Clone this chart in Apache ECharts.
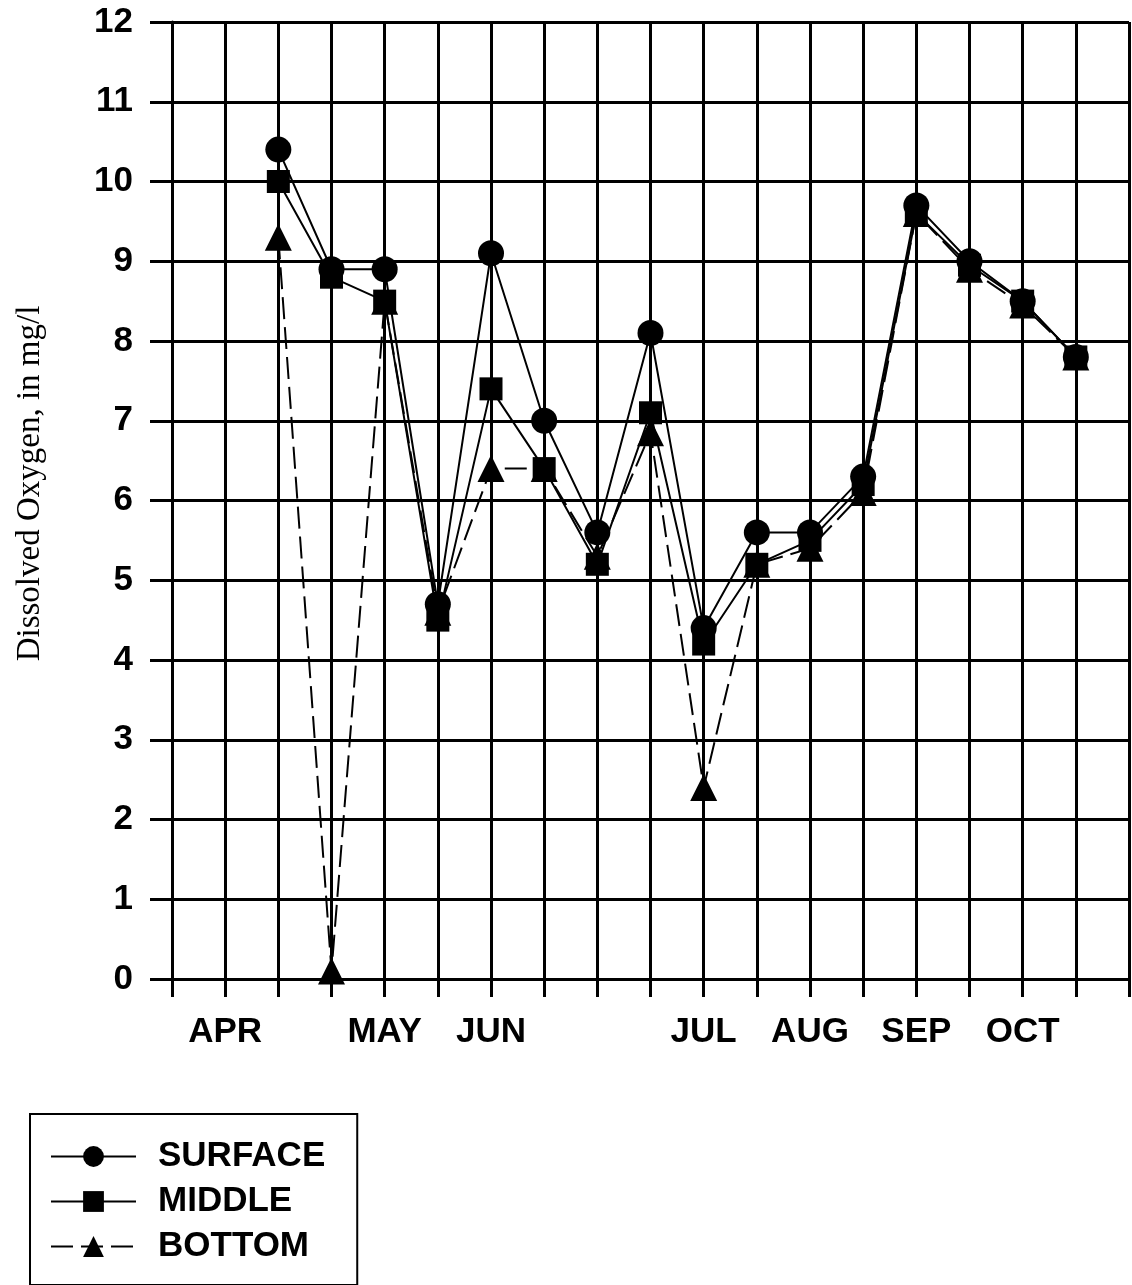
<!DOCTYPE html>
<html>
<head>
<meta charset="utf-8">
<script src="https://cdn.jsdelivr.net/npm/echarts@6/dist/echarts.min.js"></script>
<style>
html,body{margin:0;padding:0;background:#fff;}
#chart{width:1132px;height:1285px;}
</style>
</head>
<body>
<div id="chart"></div>
<script>
// 19 grid positions along x; month labels placed at their positions
var categories = ['', 'APR', '', '', 'MAY', '', 'JUN', '', '', '', 'JUL', '', 'AUG', '', 'SEP', '', 'OCT', '', ''];
var surface = [null, null, 10.4, 8.9, 8.9, 4.7, 9.1, 7.0, 5.6, 8.1, 4.4, 5.6, 5.6, 6.3, 9.7, 9.0, 8.5, 7.8, null];
var middle  = [null, null, 10.0, 8.8, 8.5, 4.5, 7.4, 6.4, 5.2, 7.1, 4.2, 5.2, 5.5, 6.2, 9.6, 8.95, 8.5, 7.8, null];
var bottom  = [null, null, 9.3, 0.1, 8.5, 4.6, 6.4, 6.4, 5.3, 6.85, 2.4, 5.2, 5.4, 6.1, 9.6, 8.9, 8.45, 7.8, null];
var yTicks = [0, 12, 1];

var chart = echarts.init(document.getElementById('chart'));
var labelFont = {color: '#000', fontFamily: 'Liberation Sans, Arial, sans-serif', fontWeight: 'bold', fontSize: 35};
chart.setOption({
  animation: false,
  backgroundColor: '#fff',
  grid: {left: 172, right: 2, top: 22, bottom: 306, containLabel: false},
  xAxis: {
    type: 'category',
    data: categories,
    boundaryGap: false,
    axisLine: {show: true, lineStyle: {color: '#000', width: 3}},
    axisTick: {show: true, interval: 0, length: 18, lineStyle: {color: '#000', width: 3}},
    axisLabel: Object.assign({interval: 0, margin: 36}, labelFont),
    splitLine: {show: true, interval: 0, lineStyle: {color: '#000', width: 3}}
  },
  yAxis: {
    type: 'value',
    min: yTicks[0], max: yTicks[1], interval: yTicks[2],
    name: 'Dissolved Oxygen, in mg/l',
    nameLocation: 'middle',
    nameGap: 125,
    nameTextStyle: {color: '#000', fontFamily: 'Liberation Serif, Times New Roman, serif', fontSize: 33, padding: [0, 0, 0, 34]},
    axisLine: {show: true, lineStyle: {color: '#000', width: 3}},
    axisTick: {show: true, length: 22, lineStyle: {color: '#000', width: 3}},
    axisLabel: Object.assign({margin: 39}, labelFont),
    splitLine: {show: true, lineStyle: {color: '#000', width: 3}}
  },
  legend: {
    orient: 'vertical',
    left: 30, top: 1114,
    padding: [24, 32, 20, 20],
    borderColor: '#000', borderWidth: 2,
    itemWidth: 85, itemHeight: 26, itemGap: 8,
    textStyle: Object.assign({padding: [0, 0, 0, 17], lineHeight: 37}, labelFont),
    data: ['SURFACE', 'MIDDLE', 'BOTTOM']
  },
  series: [
    {name: 'BOTTOM', type: 'line', data: bottom, symbol: 'triangle', symbolSize: 27,
     itemStyle: {color: '#000'}, lineStyle: {color: '#000', width: 2, type: [22, 8]}, z: 3},
    {name: 'MIDDLE', type: 'line', data: middle, symbol: 'rect', symbolSize: 23,
     itemStyle: {color: '#000'}, lineStyle: {color: '#000', width: 2}, z: 4},
    {name: 'SURFACE', type: 'line', data: surface, symbol: 'circle', symbolSize: 26,
     itemStyle: {color: '#000'}, lineStyle: {color: '#000', width: 2}, z: 5}
  ]
});
</script>
</body>
</html>
